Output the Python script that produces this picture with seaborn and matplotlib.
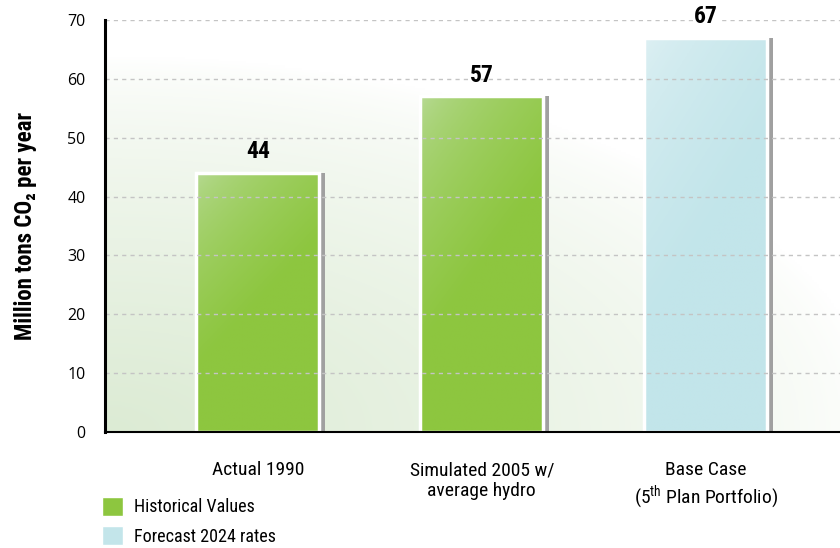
import numpy as np
import pandas as pd
import matplotlib
matplotlib.use("Agg")
import matplotlib.pyplot as plt
import matplotlib.patheffects as pe
from matplotlib.patches import Patch, Rectangle
from matplotlib.colors import to_rgb
import seaborn as sns

# data
categories = ["Actual 1990", "Simulated 2005 w/\naverage hydro",
              "Base Case\n(5$^{\\mathrm{th}}$ Plan Portfolio)"]
values = [44, 57, 67]
groups = ["Historical Values", "Historical Values", "Forecast 2024 rates"]
yticks = [0, 10, 20, 30, 40, 50, 60, 70]

pal = {"Historical Values": "#8dc63f", "Forecast 2024 rates": "#c3e5ea"}
grad = {"Historical Values": ("#bbdc9c", "#8dc63f"),
        "Forecast 2024 rates": ("#e0f1f4", "#c2e5ea")}

sns.set_style("white")
plt.rcParams["font.family"] = ["Roboto Condensed", "DejaVu Sans"]
plt.rcParams["mathtext.fontset"] = "custom"
plt.rcParams["mathtext.rm"] = "Roboto Condensed"
plt.rcParams["text.color"] = "black"

df = pd.DataFrame({"cat": categories, "val": values, "grp": groups})

fig = plt.figure(figsize=(8.4, 5.48), dpi=100)
ax = fig.add_axes([0.125, 0.2117, 0.875, 0.752])

sns.barplot(data=df, x="cat", y="val", hue="grp", palette=pal, dodge=False,
            width=0.55, legend=False, ax=ax, zorder=2)

# background gradient (green bottom-left fading to white)
xx, yy = np.meshgrid(np.linspace(0, 1, 300), np.linspace(0, 1, 200))
d = np.sqrt((xx * 0.95) ** 2 + (yy * 1.1) ** 2)
t = np.clip(1 - d / 1.0, 0, 1) ** 0.7
g = np.array(to_rgb("#dcebd4"))
bg = 1 - t[..., None] * (1 - g)
ax.imshow(bg, extent=[0, 1, 0, 1], transform=ax.transAxes, origin="lower",
          aspect="auto", zorder=0)

# gradient fill + shadow on bars
bars = [p for p in ax.patches if p.get_height() > 0]
bars = sorted(bars, key=lambda p: p.get_x())
for p, grp in zip(bars, groups):
    x0, y0, w, h = p.get_x(), p.get_y(), p.get_width(), p.get_height()
    c1, c2 = np.array(to_rgb(grad[grp][0])), np.array(to_rgb(grad[grp][1]))
    u, v = np.meshgrid(np.linspace(0, 1, 100), np.linspace(0, 1, 100))
    s = np.clip((u * 0.8 + v * 1.6) / 1.2, 0, 1) ** 0.55
    img = c1 + s[..., None] * (c2 - c1)
    im = ax.imshow(img, extent=[x0, x0 + w, y0, y0 + h], origin="upper",
                   aspect="auto", zorder=2.1)
    im.set_clip_path(p)
    p.set_edgecolor("none")
    p.set_path_effects([pe.SimplePatchShadow(offset=(4, 0), shadow_rgbFace="#a0a0a0", alpha=1),
                        pe.Normal()])
    ax.add_patch(Rectangle((x0, y0), w, h, fill=False, ec="white", lw=2.5, zorder=2.2))

for i, v in enumerate(values):
    ax.annotate(str(v), (i, v), xytext=(0, 7), textcoords="offset points",
                ha="center", va="bottom", fontsize=17, fontweight="bold",
                color="black", zorder=3,
                bbox=dict(fc="white", ec="none", pad=0.5) if v > 65 else None)

ax.set_xlim(-0.683, 2.6)
ax.set_ylim(0, 70)
ax.set_yticks(yticks)
ax.yaxis.grid(True, color="#c4c4c4", linestyle=(0, (3, 3)), lw=1)
ax.set_axisbelow(False)
for gl in ax.get_ygridlines():
    gl.set_zorder(1)

for sp in ["top", "right"]:
    ax.spines[sp].set_visible(False)
ax.spines["left"].set_linewidth(2.2)
ax.spines["bottom"].set_linewidth(1.5)
ax.spines["left"].set_color("black")
ax.spines["bottom"].set_color("black")
ax.spines["left"].set_zorder(4)
ax.spines["bottom"].set_zorder(4)

ax.tick_params(axis="y", direction="in", length=5, width=2.5, pad=14,
               labelsize=11, colors="black")
ax.tick_params(axis="x", length=0, pad=21, labelsize=14, colors="black")
for lab in ax.get_yticklabels():
    lab.set_family(["Open Sans", "DejaVu Sans"])
    lab.set_fontsize(11.5)
ax.set_xlabel("")
ax.set_ylabel("Million tons CO\u2082 per year", fontsize=16.5, fontweight="bold",
              labelpad=22, color="black")

handles = [Patch(fc=pal["Historical Values"]), Patch(fc=pal["Forecast 2024 rates"])]
fig.legend(handles, ["Historical Values", "Forecast 2024 rates"],
           loc="upper left", bbox_to_anchor=(0.121, 0.093), frameon=False,
           fontsize=13, handlelength=1.2, handleheight=1.2, handletextpad=0.6,
           borderpad=0, borderaxespad=0, labelspacing=0.55)

fig.savefig("out.png", dpi=100)
